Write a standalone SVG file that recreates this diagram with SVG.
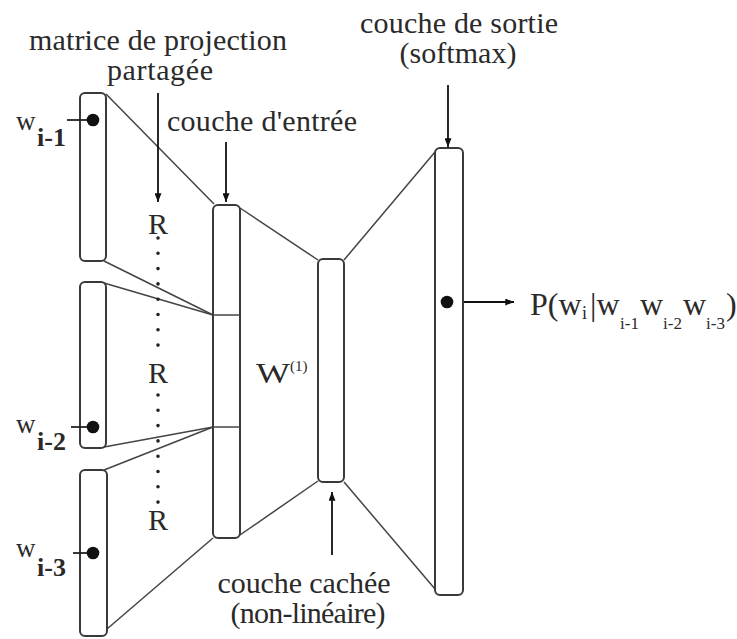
<svg xmlns="http://www.w3.org/2000/svg" width="737" height="639" viewBox="0 0 737 639">
<defs>
<marker id="ah" viewBox="0 0 10 8" refX="10" refY="4" markerWidth="9" markerHeight="7" markerUnits="userSpaceOnUse" orient="auto">
<path d="M0,0 L10,4 L0,8 z" fill="#111"/>
</marker>
<style>
.box{fill:#fff;stroke:#3a3a3a;stroke-width:2}
.ln{stroke:#444;stroke-width:1.5;fill:none}
.tick{stroke:#222;stroke-width:1.8;fill:none}
.arr{stroke:#111;stroke-width:1.8;fill:none;marker-end:url(#ah)}
.dot{fill:#111}
.t{font-family:"Liberation Serif","Times New Roman",serif;fill:#2a2a2a}
.lbl{font-size:30px;text-anchor:middle}
.w{font-size:27px}
.ws{font-size:26px;font-weight:bold}
.dots{stroke:#222;stroke-width:3.6;stroke-linecap:round;stroke-dasharray:0 15.3}
</style>
</defs>
<rect width="737" height="639" fill="#fff"/>

<g id="connectors">
<line class="ln" x1="106" y1="94" x2="214" y2="204"/>
<line class="ln" x1="240" y1="208" x2="318" y2="260"/>
<line class="ln" x1="344" y1="260" x2="435" y2="152"/>
<line class="ln" x1="104" y1="261" x2="213" y2="315"/>
<line class="ln" x1="104" y1="283" x2="213" y2="315"/>
<line class="ln" x1="104" y1="447" x2="213" y2="427"/>
<line class="ln" x1="104" y1="470" x2="213" y2="427"/>
<line class="ln" x1="107" y1="629" x2="213" y2="538"/>
<line class="ln" x1="240" y1="535" x2="318" y2="481"/>
<line class="ln" x1="344" y1="482" x2="435" y2="589"/>
<line class="arr" x1="158" y1="93" x2="158" y2="202"/>
<line class="arr" x1="226" y1="142" x2="226" y2="202"/>
<line class="arr" x1="448" y1="85" x2="448" y2="147"/>
<line class="arr" x1="332" y1="555" x2="332" y2="492"/>
<line class="arr" x1="447" y1="302" x2="514" y2="302"/>
<line class="dots" x1="158" y1="238" x2="158" y2="360"/>
<line class="dots" x1="158" y1="395" x2="158" y2="506"/>
</g>

<g id="word-i-1">
<rect class="box" x="80" y="93" width="26" height="168" rx="5"/>
<line class="tick" x1="67" y1="120" x2="93" y2="120"/>
<circle class="dot" cx="93" cy="120" r="6.3"/>
<text class="t w" x="16" y="130">w</text>
<text class="t ws" x="37" y="146">i-1</text>
</g>
<g id="word-i-2">
<rect class="box" x="80" y="282" width="26" height="166" rx="5"/>
<line class="tick" x1="71" y1="427" x2="93" y2="427"/>
<circle class="dot" cx="93" cy="427" r="6.3"/>
<text class="t w" x="16" y="433">w</text>
<text class="t ws" x="37" y="450">i-2</text>
</g>
<g id="word-i-3">
<rect class="box" x="80" y="470" width="27" height="166" rx="5"/>
<line class="tick" x1="73" y1="553" x2="93" y2="553"/>
<circle class="dot" cx="93" cy="553" r="6.3"/>
<text class="t w" x="16" y="557">w</text>
<text class="t ws" x="37" y="576">i-3</text>
</g>

<g id="projection-R">
<text class="t lbl" x="158" y="50" textLength="258">matrice de projection</text>
<text class="t lbl" x="160" y="80" textLength="106">partagée</text>
<text class="t lbl" x="158" y="234">R</text>
<text class="t lbl" x="158" y="383">R</text>
<text class="t lbl" x="158" y="530">R</text>
</g>

<g id="input-layer">
<rect class="box" x="213" y="205" width="27" height="333" rx="5"/>
<line class="ln" x1="213" y1="315" x2="240" y2="315"/>
<line class="ln" x1="213" y1="427" x2="240" y2="427"/>
<text class="t lbl" x="262" y="131" textLength="190">couche d'entrée</text>
</g>

<g id="weights">
<text class="t" font-size="30" x="256" y="383" textLength="34" lengthAdjust="spacingAndGlyphs">W</text>
<text class="t" font-size="15" x="290" y="371">(1)</text>
</g>

<g id="hidden-layer">
<rect class="box" x="318" y="259" width="26" height="223" rx="5"/>
<text class="t lbl" x="304" y="593" textLength="173">couche cachée</text>
<text class="t lbl" x="308" y="623" textLength="155">(non-linéaire)</text>
</g>

<g id="output-layer">
<rect class="box" x="435" y="148" width="28" height="447" rx="5"/>
<circle class="dot" cx="447" cy="302" r="6.3"/>
<text class="t lbl" x="459" y="33" textLength="198">couche de sortie</text>
<text class="t lbl" x="458" y="63" textLength="117">(softmax)</text>
</g>

<g id="output-prob">
<text class="t" font-size="32" y="315"><tspan x="530">P(w</tspan><tspan x="582" y="319" font-size="18">i</tspan><tspan x="590" y="315">|w</tspan><tspan x="620" y="329" font-size="17">i-1</tspan><tspan x="640" y="315">w</tspan><tspan x="663" y="329" font-size="17">i-2</tspan><tspan x="683" y="315">w</tspan><tspan x="706" y="329" font-size="17">i-3</tspan><tspan x="726" y="315">)</tspan></text>
</g>
</svg>
